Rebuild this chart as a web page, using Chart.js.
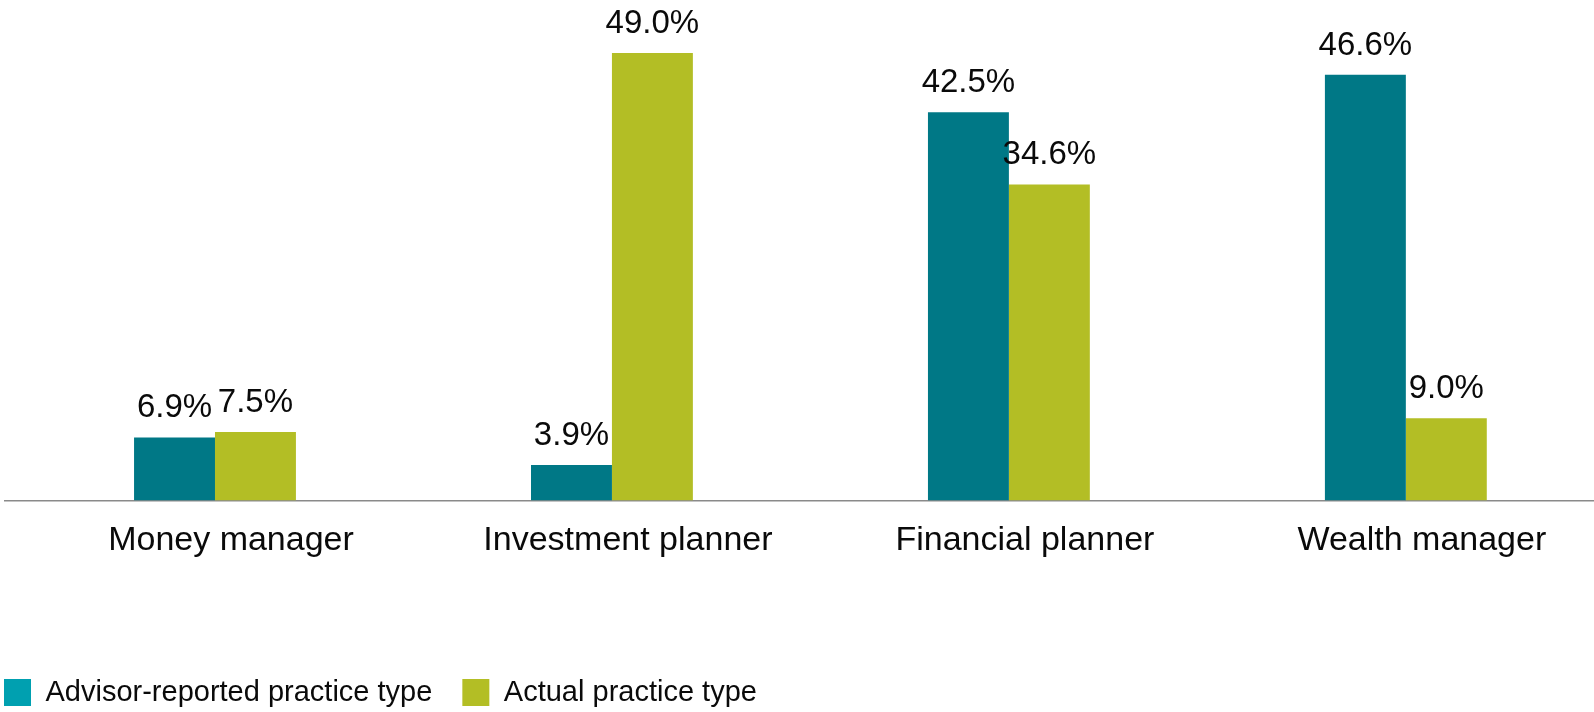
<!DOCTYPE html>
<html>
<head>
<meta charset="utf-8">
<script src="https://cdn.jsdelivr.net/npm/chart.js@4.4.1/dist/chart.umd.min.js"></script>
<style>
  html, body { margin: 0; padding: 0; background: #ffffff; overflow: hidden; }
  #wrap { width: 1594px; height: 712px; position: relative; }
</style>
</head>
<body>
<div id="wrap"><canvas id="c" width="1594" height="712"></canvas></div>
<script>
const categories = ['Money manager', 'Investment planner', 'Financial planner', 'Wealth manager'];
const seriesLabels = ['Advisor-reported practice type', 'Actual practice type'];
const advisorReported = [6.9, 3.9, 42.5, 46.6];
const actualType = [7.5, 49.0, 34.6, 9.0];
const yMax = 50;

const barColors = ['#007886', '#B3BE25'];
const legendColors = ['#00A0B0', '#B3BE25'];
const FONT = "'Liberation Sans', Arial, sans-serif";

const toPoints = arr => arr.map((v, i) => ({ x: i, y: v }));

const valueLabels = {
  id: 'valueLabels',
  afterDatasetsDraw(chart) {
    const ctx = chart.ctx;
    ctx.save();
    ctx.font = '33px ' + FONT;
    ctx.fillStyle = '#0a0a0a';
    ctx.textAlign = 'center';
    ctx.textBaseline = 'alphabetic';
    chart.data.datasets.forEach((ds, di) => {
      const meta = chart.getDatasetMeta(di);
      meta.data.forEach((el, i) => {
        const v = ds.data[i].y;
        ctx.fillText(v.toFixed(1) + '%', el.x, el.y - 20);
      });
    });
    ctx.restore();
  }
};

const legendPlacer = {
  id: 'legendPlacer',
  afterLayout(chart) {
    const lg = chart.legend;
    if (!lg) return;
    const pad = lg.options.labels.padding;
    const dx = 4 - pad - lg.left;
    const dy = (679 - 1) - pad - lg.top;
    lg.left += dx; lg.right += dx;
    lg.top += dy; lg.bottom += dy;
  }
};

new Chart(document.getElementById('c'), {
  type: 'bar',
  data: {
    datasets: [
      { label: seriesLabels[0], data: toPoints(advisorReported), backgroundColor: barColors[0], borderWidth: 0 },
      { label: seriesLabels[1], data: toPoints(actualType), backgroundColor: barColors[1], borderWidth: 0 }
    ]
  },
  options: {
    responsive: false,
    animation: false,
    devicePixelRatio: 1,
    layout: { padding: { top: 43.8, left: 5, right: 0, bottom: 62.7 } },
    datasets: { bar: { categoryPercentage: 0.4078, barPercentage: 1.0 } },
    scales: {
      x: {
        type: 'linear',
        offset: false,
        bounds: 'data',
        min: -0.529,
        max: 3.474,
        grid: { display: false, drawTicks: false, offset: false },
        border: { display: true, color: '#8a8a8a', width: 1.5 },
        afterBuildTicks: axis => { axis.ticks = categories.map((_, i) => ({ value: i })); },
        ticks: {
          autoSkip: false,
          maxRotation: 0,
          padding: 19.5,
          labelOffset: 16,
          color: '#0a0a0a',
          font: { family: FONT, size: 34 },
          callback: v => categories[v] ?? ''
        }
      },
      y: {
        display: false,
        min: 0,
        max: yMax
      }
    },
    plugins: {
      tooltip: { enabled: false },
      legend: {
        display: true,
        position: 'bottom',
        align: 'start',
        labels: {
          boxWidth: 27,
          boxHeight: 27,
          padding: 30,
          color: '#0a0a0a',
          font: { family: FONT, size: 29 },
          generateLabels: chart => {
            const items = Chart.defaults.plugins.legend.labels.generateLabels(chart);
            items.forEach((it, i) => { it.fillStyle = legendColors[i]; it.strokeStyle = legendColors[i]; it.lineWidth = 0; });
            return items;
          }
        }
      }
    }
  },
  plugins: [valueLabels, legendPlacer]
});
</script>
</body>
</html>
